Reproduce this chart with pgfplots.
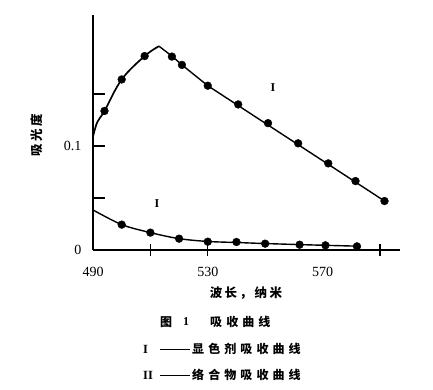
\documentclass[border=0pt]{standalone}
\usepackage{pgfplots}
\pgfplotsset{compat=1.18}
\usepackage{fontspec}
\setmainfont{Liberation Serif}
\newfontfamily\cjk[LetterSpace=20]{Noto Sans CJK SC}
\newfontfamily\cjkw[LetterSpace=34]{Noto Sans CJK SC}
\begin{document}
\begin{tikzpicture}
\path[use as bounding box] (-93pt,-140pt) rectangle (340pt,250pt);
\begin{axis}[
  at={(0pt,0pt)}, anchor=south west,
  scale only axis, width=307pt, height=235pt,
  xmin=490, xmax=597, ymin=0, ymax=0.226,
  axis x line=bottom, axis y line=left,
  x axis line style={-, line width=1.5pt},
  y axis line style={-, line width=2pt},
  xtick={510,530,590}, xticklabels={},
  xtick style={line width=1.3pt, black, /pgfplots/tick align=center},
  extra x ticks={490,530,570}, extra x tick labels={490,530,570},
  extra x tick style={tick style={draw=none}},
  ytick={0,0.05,0.1,0.15}, yticklabels={0,,0.1,},
  ytick style={line width=1.5pt, black},
  tick align=inside,
  major tick length=12pt,
  ticklabel style={font=\fontsize{14}{16}\selectfont},
  /pgf/number format/assume math mode=true,
  xticklabel shift=14pt,
  yticklabel shift=8pt,
  clip=false,
]
% curve I (developer)
\addplot[line width=1.7pt, smooth, tension=0.6] coordinates {(490,0.109) (491.5,0.123) (494,0.1337) (500,0.164) (508,0.1865) (513,0.196)};
\addplot[line width=1.4pt] coordinates {(513,0.196) (517.5,0.1865) (521,0.178) (530,0.158) (591.6,0.0471)};
\addplot[only marks, mark=*, mark size=3.9pt] coordinates {(494,0.1337) (500,0.164) (508,0.1865) (517.5,0.186) (521,0.178) (530,0.158) (540.6,0.140) (551,0.122) (561.5,0.1026) (572,0.0833) (581.5,0.0663) (591.6,0.0471)};
% curve II (complex)
\addplot[line width=1.4pt, smooth, tension=0.5] coordinates {(490,0.0385) (500,0.0244) (510,0.0167) (520,0.0109) (530,0.0082) (540,0.0072) (550,0.0062) (562,0.0052) (571,0.0045) (582,0.0037)};
\addplot[only marks, mark=*, mark size=3.9pt] coordinates {(500,0.0244) (510,0.0167) (520,0.0109) (530,0.008) (540,0.0077) (550,0.0061) (562,0.0051) (571,0.0045) (582,0.0035)};
\node[font=\bfseries\fontsize{12}{14}\selectfont] at (axis cs:552.7,0.156) {I};
\node[font=\bfseries\fontsize{12}{14}\selectfont] at (axis cs:512.3,0.045) {I};
\end{axis}
\node[rotate=90, font=\cjk\bfseries\fontsize{12.5}{14}\selectfont] at (-56pt,115pt) {吸光度};
\node[font=\cjk\bfseries\fontsize{12.5}{14}\selectfont] at (153pt,-43pt) {波长，纳米};
\node[anchor=west, inner sep=0pt, font=\cjk\bfseries\fontsize{12}{14}\selectfont] at (67pt,-72pt) {图};
\node[anchor=west, inner sep=0pt, font=\bfseries\fontsize{12}{14}\selectfont] at (90pt,-72pt) {1};
\node[anchor=west, inner sep=0pt, font=\cjkw\bfseries\fontsize{12}{14}\selectfont] at (117pt,-72pt) {吸收曲线};
\node[anchor=west, inner sep=0pt, font=\bfseries\fontsize{12.5}{14}\selectfont] at (50pt,-99pt) {I};
\node[anchor=west, inner sep=0pt] at (67pt,-99pt) {\rule{30pt}{0.9pt}};
\node[anchor=west, inner sep=0pt, font=\cjkw\bfseries\fontsize{12}{14}\selectfont] at (99pt,-99pt) {显色剂吸收曲线};
\node[anchor=west, inner sep=0pt, font=\bfseries\fontsize{12.5}{14}\selectfont] at (50pt,-125pt) {II};
\node[anchor=west, inner sep=0pt] at (67pt,-125pt) {\rule{30pt}{0.9pt}};
\node[anchor=west, inner sep=0pt, font=\cjkw\bfseries\fontsize{12}{14}\selectfont] at (99pt,-125pt) {络合物吸收曲线};
\end{tikzpicture}
\end{document}
